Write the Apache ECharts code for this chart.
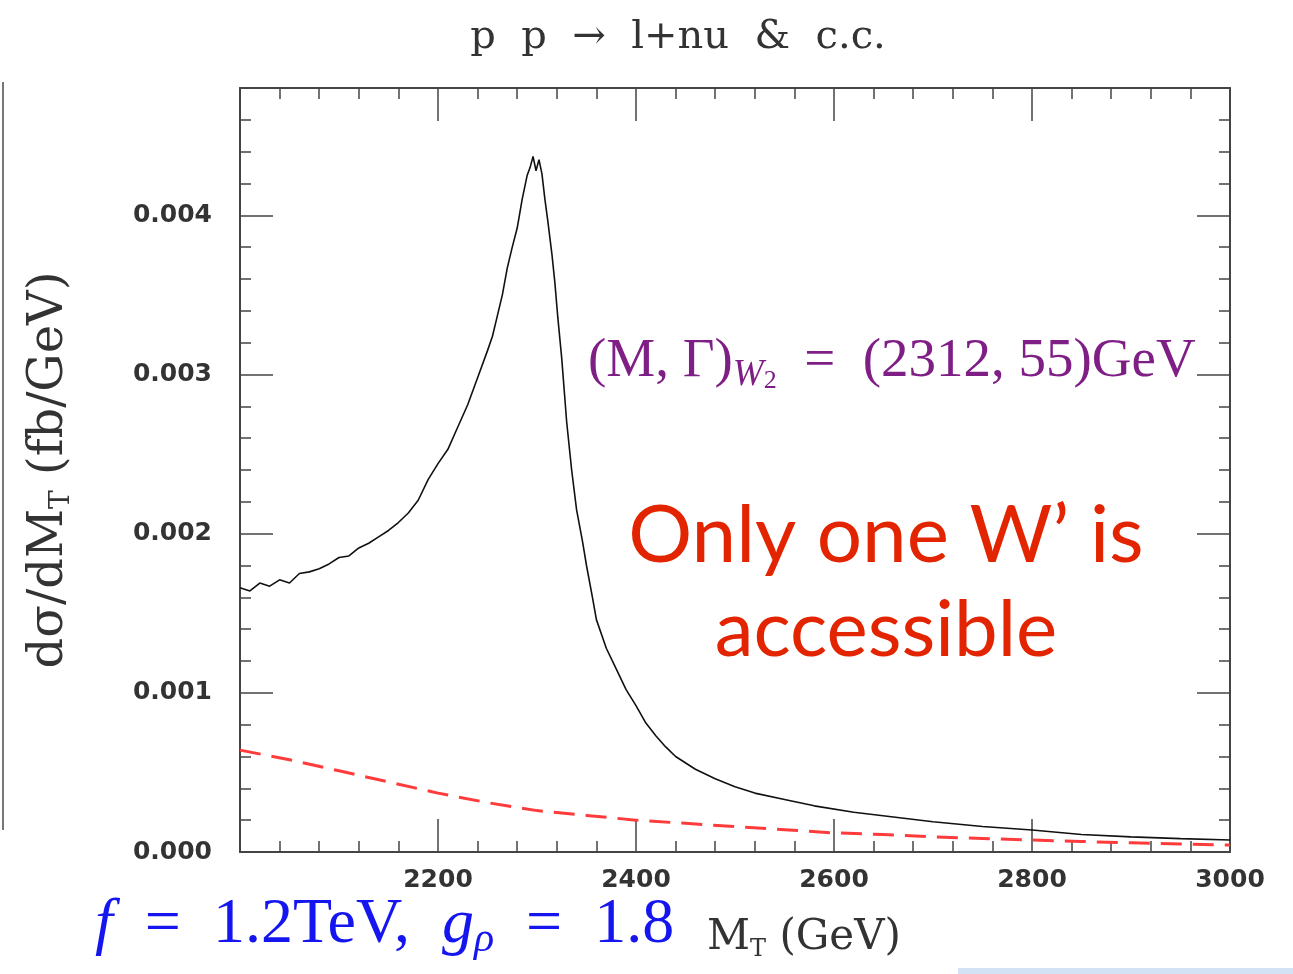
<!DOCTYPE html>
<html>
<head>
<meta charset="UTF-8">
<title>p p → l+nu & c.c.</title>
<script src="https://cdn.jsdelivr.net/npm/echarts@6.0.0/dist/echarts.min.js"></script>
<style>
  html, body { margin: 0; padding: 0; background: #fff; }
  #chart { width: 1293px; height: 974px; }
</style>
</head>
<body>
<div id="chart"></div>
<script>
// W2 signal (black histogram), M_T in GeV, dsigma/dM_T in fb/GeV
var mtSignal = [2000, 2010, 2020, 2030, 2040, 2050, 2060, 2070, 2080, 2090,
                2100, 2110, 2120, 2130, 2140, 2150, 2160, 2170, 2180, 2190,
                2200, 2210, 2220, 2230, 2240, 2250, 2255, 2260, 2265, 2270,
                2275, 2280, 2285, 2290, 2293, 2296, 2299, 2302, 2305, 2308,
                2311, 2315, 2318, 2321, 2325, 2330, 2335, 2340, 2346, 2350,
                2356, 2360, 2370, 2380, 2390, 2400, 2410, 2420, 2430, 2440,
                2460, 2480, 2500, 2520, 2550, 2580, 2620, 2660, 2700, 2750,
                2800, 2850, 2900, 2950, 3000];
var dsSignal = [0.00166, 0.00164, 0.00169, 0.00167, 0.00171, 0.00169, 0.00175, 0.00176, 0.00178, 0.00181,
                0.00185, 0.00186, 0.00191, 0.00194, 0.00198, 0.00202, 0.00207, 0.00213, 0.00221, 0.00234,
                0.00244, 0.00253, 0.00267, 0.00281, 0.00298, 0.00315, 0.00324, 0.00337, 0.00350, 0.00367,
                0.00380, 0.00392, 0.00410, 0.00425, 0.00430, 0.00437, 0.00428, 0.00435, 0.00426, 0.00410,
                0.00396, 0.00376, 0.00358, 0.00336, 0.00310, 0.00270, 0.00240, 0.00215, 0.00195, 0.00180,
                0.00160, 0.00146, 0.00128, 0.00115, 0.00102, 0.00092, 0.00081, 0.00073, 0.00066, 0.00060,
                0.00052, 0.00046, 0.00041, 0.00037, 0.00033, 0.00029, 0.00025, 0.00022, 0.00019, 0.00016,
                0.000138, 0.00011, 0.000095, 0.000084, 0.000075];

// background (red dashed)
var mtBkg = [2000, 2050, 2100, 2150, 2200, 2250, 2300, 2350, 2400, 2450, 2500,
             2550, 2600, 2650, 2700, 2750, 2800, 2850, 2900, 2950, 3000];
var dsBkg = [0.00064, 0.00058, 0.00051, 0.00044, 0.00037, 0.00031, 0.00026, 0.00023, 0.00020, 0.00018, 0.00016,
             0.00014, 0.00012, 0.00011, 0.000095, 0.000085, 0.000075, 0.000066, 0.000058, 0.00005, 0.000044];

var xTickLabels = ['', '2200', '2400', '2600', '2800', '3000'];
var yTickLabels = ['0.000', '0.001', '0.002', '0.003', '0.004'];

function pairs(xs, ys) {
  var out = [];
  for (var i = 0; i < xs.length; i++) out.push([xs[i], ys[i]]);
  return out;
}

var frameColor = '#444';
var labelFont = { color: '#333', fontFamily: 'DejaVu Sans', fontWeight: 'bold', fontSize: 25 };

function xAxisDef(pos, showLabel) {
  return {
    type: 'value', position: pos, min: 2000, max: 3000, interval: 200,
    axisLine: { show: true, onZero: false, lineStyle: { color: frameColor, width: 2 } },
    axisTick: { show: true, inside: true, length: 33, lineStyle: { color: frameColor, width: 1.5 } },
    minorTick: { show: true, splitNumber: 5, length: 11, lineStyle: { color: frameColor, width: 1.5 } },
    splitLine: { show: false },
    axisLabel: {
      show: showLabel, margin: 16,
      color: labelFont.color, fontFamily: labelFont.fontFamily, fontWeight: labelFont.fontWeight, fontSize: labelFont.fontSize,
      formatter: function (v) { return xTickLabels[Math.round((v - 2000) / 200)] || ''; }
    }
  };
}

function yAxisDef(pos, major, showLabel) {
  return {
    type: 'value', position: pos, min: 0, max: 0.0048, interval: major ? 0.001 : 0.0002,
    axisLine: { show: major, onZero: false, lineStyle: { color: frameColor, width: 2 } },
    axisTick: { show: true, inside: true, length: major ? 33 : 11, lineStyle: { color: frameColor, width: 1.5 } },
    splitLine: { show: false },
    axisLabel: {
      show: showLabel, margin: 28, showMaxLabel: false,
      color: labelFont.color, fontFamily: labelFont.fontFamily, fontWeight: labelFont.fontWeight, fontSize: labelFont.fontSize,
      formatter: function (v) { return yTickLabels[Math.round(v / 0.001)] || ''; }
    }
  };
}

var chart = echarts.init(document.getElementById('chart'));

var xBottom = xAxisDef('bottom', true);
xBottom.name = 'M{t|T} (GeV)';
xBottom.nameLocation = 'middle';
xBottom.nameGap = 62;
xBottom.nameTextStyle = {
  color: '#333', fontFamily: 'DejaVu Serif', fontSize: 42, lineHeight: 48,
  padding: [0, 0, 0, 138],
  rich: { t: { fontFamily: 'DejaVu Serif', fontSize: 24, lineHeight: 24, verticalAlign: 'bottom', color: '#333' } }
};

var yLeft = yAxisDef('left', true, true);
yLeft.name = 'dσ/dM{t|T} (fb/GeV)';
yLeft.nameLocation = 'middle';
yLeft.nameGap = 164;
yLeft.nameTextStyle = {
  color: '#333', fontFamily: 'DejaVu Serif', fontSize: 48, lineHeight: 52,
  rich: { t: { fontFamily: 'DejaVu Serif', fontSize: 28, lineHeight: 28, verticalAlign: 'bottom', color: '#333' } }
};

var option = {
  backgroundColor: '#fff',
  animation: false,
  grid: { left: 240, right: 63, top: 88, bottom: 122 },
  xAxis: [xBottom, xAxisDef('top', false)],
  yAxis: [yLeft, yAxisDef('left', false, false), yAxisDef('right', true, false), yAxisDef('right', false, false)],
  series: [
    {
      type: 'line', xAxisIndex: 0, yAxisIndex: 0, showSymbol: false,
      data: pairs(mtSignal, dsSignal),
      lineStyle: { color: '#111', width: 1.6 }
    },
    {
      type: 'line', xAxisIndex: 0, yAxisIndex: 0, showSymbol: false,
      data: pairs(mtBkg, dsBkg),
      lineStyle: { color: '#ff3b3b', width: 3, type: [21, 11] }
    }
  ],
  graphic: [
    // edge of the neighbouring panel
    { type: 'line', shape: { x1: 3, y1: 82, x2: 3, y2: 830 }, style: { stroke: '#777', lineWidth: 2 } },
    { type: 'rect', shape: { x: 958, y: 968, width: 335, height: 6 }, style: { fill: '#d4e2f6' } },
    {
      type: 'text', x: 678, y: 38,
      style: { text: 'p  p  →  l+nu  &  c.c.', fontFamily: 'DejaVu Serif', fontSize: 40, fill: '#333',
               textAlign: 'center', textVerticalAlign: 'middle' }
    },
    {
      type: 'text', x: 588, y: 362,
      style: {
        text: '(M, Γ){w|W}{n|2}  =  (2312, 55)GeV',
        fontFamily: 'Liberation Serif', fontSize: 55, lineHeight: 64, fill: '#7f1f86',
        textAlign: 'left', textVerticalAlign: 'middle',
        rich: {
          w: { fontFamily: 'Liberation Serif', fontStyle: 'italic', fontSize: 37, lineHeight: 42, verticalAlign: 'bottom', fill: '#7f1f86' },
          n: { fontFamily: 'Liberation Serif', fontSize: 26, lineHeight: 26, verticalAlign: 'bottom', fill: '#7f1f86' }
        }
      }
    },
    {
      type: 'text', x: 886, y: 536,
      style: { text: 'Only one W’ is', fontFamily: 'Lato', fontSize: 80, fill: '#e32400',
               textAlign: 'center', textVerticalAlign: 'middle' }
    },
    {
      type: 'text', x: 886, y: 631,
      style: { text: 'accessible', fontFamily: 'Lato', fontSize: 78, fill: '#e32400',
               textAlign: 'center', textVerticalAlign: 'middle' }
    },
    {
      type: 'text', x: 95, y: 925,
      style: {
        text: '{i|f}  =  1.2TeV,  {i|g}{s|ρ}  =  1.8',
        fontFamily: 'Liberation Serif', fontSize: 64, lineHeight: 72, fill: '#1515f0',
        textAlign: 'left', textVerticalAlign: 'middle',
        rich: {
          i: { fontFamily: 'Liberation Serif', fontStyle: 'italic', fontSize: 64, lineHeight: 72, fill: '#1515f0' },
          s: { fontFamily: 'Liberation Serif', fontStyle: 'italic', fontSize: 42, lineHeight: 42, verticalAlign: 'bottom', fill: '#1515f0' }
        }
      }
    }
  ]
};

chart.setOption(option);
</script>
</body>
</html>
